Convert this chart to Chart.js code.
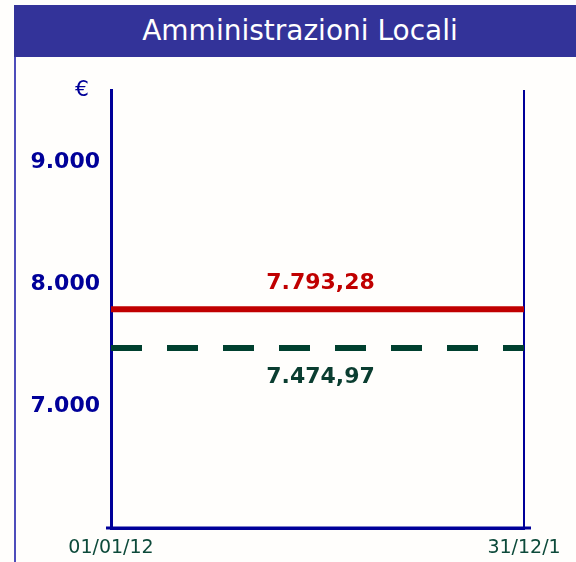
<!DOCTYPE html>
<html>
<head>
<meta charset="utf-8">
<script src="https://cdn.jsdelivr.net/npm/chart.js@4/dist/chart.umd.min.js"></script>
<style>
  html, body { margin: 0; padding: 0; background: #fffefc; }
  #wrap { position: relative; width: 576px; height: 562px; overflow: hidden; }
  #titlebar {
    position: absolute; left: 14px; top: 5px; width: 562px; height: 52px;
    background: #333399; color: #ffffff;
    font-family: "DejaVu Sans", sans-serif; font-size: 28px;
    line-height: 52px; text-align: center; padding-left: 10px; box-sizing: border-box;
  }
  #frame {
    position: absolute; left: 14px; top: 57px; width: 2px; height: 505px;
    background: #4d4dbb;
  }
  canvas { position: absolute; left: 0; top: 0; }
</style>
</head>
<body>
<div id="wrap">
  <div id="titlebar">Amministrazioni Locali</div>
  <div id="frame"></div>
  <canvas id="c" width="576" height="562"></canvas>
</div>
<script>
// Period endpoints and the two reference levels
const categories = ['01/01/12', '31/12/1'];
const valoreRosso = [7793.28, 7793.28];
const valoreVerde = [7474.97, 7474.97];
const yTicks = [7000, 8000, 9000];
const yMin = 6000;
const yMax = 9590;

const NAVY = '#000099';

// Italian number format: dot for thousands, comma for decimals
function fmtIt(v, dec) {
  const parts = v.toFixed(dec).split('.');
  parts[0] = parts[0].replace(/\B(?=(\d{3})+(?!\d))/g, '.');
  return parts.join(',');
}

// Value labels above/below each level, plus the € unit and the extended base line
const decorations = {
  id: 'decorations',
  afterDatasetsDraw(chart) {
    const ctx = chart.ctx;
    const area = chart.chartArea;
    const cx = (area.left + area.right) / 2 + 3;
    ctx.save();
    ctx.textAlign = 'center';
    ctx.textBaseline = 'middle';
    ctx.font = 'bold 22px "DejaVu Sans", sans-serif';
    chart.data.datasets.forEach((ds, i) => {
      const meta = chart.getDatasetMeta(i);
      const y = meta.data[0].y;
      ctx.fillStyle = ds.labelColor;
      ctx.fillText(fmtIt(ds.data[0], 2), cx, y + ds.labelOffset);
    });
    // unit of measure
    ctx.fillStyle = NAVY;
    ctx.font = '22px "DejaVu Sans", sans-serif';
    ctx.fillText('€', area.left - 29, area.top);
    // base line running slightly past both verticals
    ctx.strokeStyle = NAVY;
    ctx.lineWidth = 3;
    ctx.beginPath();
    ctx.moveTo(area.left - 5, area.bottom);
    ctx.lineTo(area.right + 7, area.bottom);
    ctx.stroke();
    ctx.restore();
  }
};

new Chart(document.getElementById('c'), {
  type: 'line',
  data: {
    labels: categories,
    datasets: [
      {
        data: valoreRosso,
        borderColor: '#c00000',
        borderWidth: 6,
        pointRadius: 0,
        labelColor: '#c00000',
        labelOffset: -26
      },
      {
        data: valoreVerde,
        borderColor: '#00402f',
        borderWidth: 6,
        borderDash: [31, 25],
        pointRadius: 0,
        labelColor: '#0a3d30',
        labelOffset: 29
      }
    ]
  },
  options: {
    responsive: false,
    animation: false,
    devicePixelRatio: 1,
    layout: { padding: { top: 90, right: 52, bottom: 0, left: 0 } },
    plugins: {
      legend: { display: false },
      tooltip: { enabled: false }
    },
    scales: {
      x: {
        type: 'category',
        offset: false,
        afterFit(scale) { scale.height = 34; },
        grid: {
          display: true,
          drawOnChartArea: true,
          drawTicks: false,
          color: NAVY,
          lineWidth: 2
        },
        border: { display: true, color: NAVY, width: 3 },
        ticks: {
          color: '#0d4a3a',
          padding: 9,
          maxRotation: 0,
          autoSkip: false,
          font: { family: '"DejaVu Sans", sans-serif', size: 19 }
        }
      },
      y: {
        type: 'linear',
        min: yMin,
        max: yMax,
        afterFit(scale) { scale.width = 111; },
        afterBuildTicks(scale) { scale.ticks = yTicks.map(v => ({ value: v })); },
        grid: { display: false, drawTicks: false },
        border: { display: true, color: NAVY, width: 3 },
        ticks: {
          color: NAVY,
          padding: 11,
          font: { family: '"DejaVu Sans", sans-serif', size: 22, weight: 'bold' },
          callback: (v) => fmtIt(v, 0)
        }
      }
    }
  },
  plugins: [decorations]
});
</script>
</body>
</html>
